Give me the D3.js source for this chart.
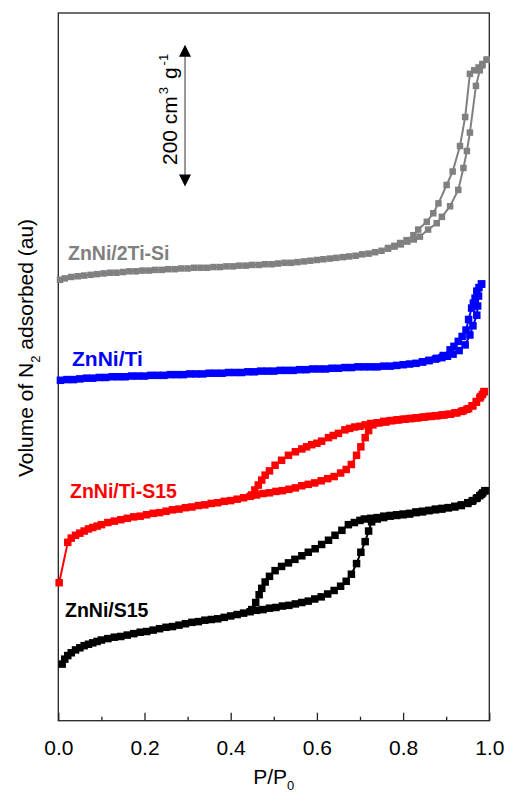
<!DOCTYPE html>
<html>
<head>
<meta charset="utf-8">
<script src="https://cdn.jsdelivr.net/npm/d3@7"></script>
<style>
  body { margin: 0; background: #fff; }
  svg { display: block; font-family: "Liberation Sans", Arial, sans-serif; }
  .seriesLabel { font-weight: bold; }
</style>
</head>
<body>
<div id="isothermChart"></div>
<script>
// x axis ticks
const pMajorTicks = [0, 0.2, 0.4, 0.6, 0.8, 1.0];
const pMinorTicks = [0.1, 0.3, 0.5, 0.7, 0.9];

// ZnNi/S15 (black) - [P/P0, volume au]
const s15Ads = [[0.009,80],[0.015,87],[0.022,92],[0.03,96],[0.04,100],[0.05,103],[0.06,106],[0.07,108],[0.08,110],[0.09,112],[0.10,114],[0.115,116],[0.13,118],[0.145,119],[0.16,121],[0.175,123],[0.19,125],[0.205,126],[0.22,128],[0.235,130],[0.25,132],[0.265,133],[0.28,135],[0.295,137],[0.31,139],[0.325,140],[0.34,142],[0.355,143],[0.37,144],[0.385,146],[0.40,148],[0.415,150],[0.43,152],[0.445,154],[0.46,156],[0.475,157],[0.49,159],[0.505,160],[0.52,162],[0.535,163],[0.55,165],[0.565,167],[0.58,169],[0.595,172],[0.61,175],[0.625,179],[0.64,184],[0.655,190],[0.668,197],[0.68,207],[0.692,222],[0.702,238],[0.712,253],[0.72,268],[0.727,281],[0.74,285],[0.755,287],[0.77,289],[0.785,290],[0.80,291],[0.815,292],[0.83,294],[0.845,295],[0.86,297],[0.875,298],[0.89,299],[0.905,301],[0.92,302],[0.935,304],[0.95,307],[0.96,310],[0.97,314],[0.978,318],[0.985,322],[0.99,325]];
const s15Des = [[0.99,325],[0.982,320],[0.972,315],[0.962,311],[0.95,308],[0.935,305],[0.92,303],[0.905,301],[0.89,300],[0.875,299],[0.86,297],[0.845,296],[0.83,295],[0.815,293],[0.80,292],[0.785,291],[0.77,290],[0.755,289],[0.74,287],[0.725,286],[0.71,285],[0.70,283],[0.687,280],[0.673,277],[0.658,269],[0.642,262],[0.627,255],[0.611,249],[0.596,243],[0.58,238],[0.565,233],[0.549,228],[0.534,223],[0.518,218],[0.503,212],[0.49,204],[0.48,196],[0.472,187],[0.466,178],[0.458,167],[0.449,157]];

// ZnNi/Ti-S15 (red)
const tiS15Ads = [[0.002,195],[0.022,252],[0.03,258],[0.04,262],[0.05,265],[0.06,268],[0.07,271],[0.08,273],[0.09,275],[0.10,277],[0.115,280],[0.13,282],[0.145,284],[0.16,286],[0.175,288],[0.19,289],[0.205,291],[0.22,293],[0.235,294],[0.25,296],[0.265,298],[0.28,299],[0.295,301],[0.31,302],[0.325,304],[0.34,305],[0.355,307],[0.37,308],[0.385,310],[0.40,311],[0.415,313],[0.43,315],[0.445,317],[0.46,319],[0.475,321],[0.49,322],[0.505,324],[0.52,325],[0.535,327],[0.55,329],[0.565,332],[0.58,334],[0.595,336],[0.61,339],[0.625,342],[0.64,345],[0.655,350],[0.668,355],[0.68,362],[0.692,375],[0.702,387],[0.712,400],[0.72,410],[0.73,418],[0.745,421],[0.76,422],[0.775,424],[0.79,425],[0.805,426],[0.82,427],[0.835,428],[0.85,429],[0.865,430],[0.88,431],[0.895,432],[0.91,433],[0.925,435],[0.94,438],[0.952,441],[0.962,445],[0.97,450],[0.978,456],[0.984,461],[0.988,465]];
const tiS15Des = [[0.988,465],[0.98,458],[0.97,451],[0.96,445],[0.948,440],[0.935,437],[0.92,435],[0.905,433],[0.89,432],[0.875,431],[0.86,430],[0.845,429],[0.83,428],[0.815,427],[0.80,426],[0.785,425],[0.77,424],[0.755,423],[0.74,421],[0.725,420],[0.712,418],[0.70,416],[0.688,415],[0.676,413],[0.665,411],[0.65,406],[0.638,403],[0.627,400],[0.611,395],[0.60,392],[0.588,390],[0.576,387],[0.565,384],[0.55,380],[0.534,375],[0.518,368],[0.503,361],[0.49,353],[0.48,347],[0.472,340],[0.464,333],[0.456,326],[0.449,319]];

// ZnNi/Ti (blue)
const tiAds = [[0.005,481],[0.02,482],[0.035,482],[0.05,483],[0.065,484],[0.08,484],[0.095,485],[0.11,485],[0.125,486],[0.14,486],[0.155,486],[0.17,487],[0.185,487],[0.20,487],[0.215,488],[0.23,488],[0.245,488],[0.26,489],[0.275,489],[0.29,489],[0.305,490],[0.32,490],[0.335,490],[0.35,491],[0.365,491],[0.38,491],[0.395,492],[0.41,492],[0.425,492],[0.44,493],[0.455,493],[0.47,494],[0.485,494],[0.50,494],[0.515,495],[0.53,495],[0.545,495],[0.56,496],[0.575,496],[0.59,497],[0.605,497],[0.62,497],[0.635,498],[0.65,498],[0.665,499],[0.68,499],[0.695,500],[0.71,500],[0.725,500],[0.74,500],[0.755,501],[0.77,501],[0.785,502],[0.80,503],[0.815,504],[0.83,505],[0.845,507],[0.86,509],[0.875,511],[0.89,513],[0.903,515],[0.916,518],[0.93,523],[0.944,531],[0.955,545],[0.962,558],[0.971,573],[0.973,586],[0.975,600],[0.982,617]];
const tiDes = [[0.982,617],[0.976,612],[0.971,607],[0.967,597],[0.963,590],[0.959,583],[0.952,567],[0.946,552],[0.937,543],[0.928,536],[0.918,529],[0.909,524],[0.893,516],[0.878,512],[0.86,509],[0.845,507]];

// ZnNi/2Ti-Si (grey)
const ti2SiAds = [[0.004,623],[0.015,625],[0.03,627],[0.045,628],[0.06,629],[0.075,630],[0.09,631],[0.105,632],[0.12,633],[0.135,633],[0.15,634],[0.165,635],[0.18,635],[0.195,636],[0.21,636],[0.225,637],[0.24,637],[0.255,638],[0.27,638],[0.285,639],[0.30,639],[0.315,640],[0.33,640],[0.345,640],[0.36,641],[0.375,641],[0.39,642],[0.405,642],[0.42,643],[0.435,643],[0.45,644],[0.465,644],[0.48,645],[0.495,645],[0.51,646],[0.525,647],[0.54,647],[0.555,648],[0.57,649],[0.585,650],[0.60,651],[0.615,652],[0.63,653],[0.645,654],[0.66,655],[0.675,656],[0.69,657],[0.705,659],[0.72,660],[0.735,662],[0.75,664],[0.765,667],[0.78,670],[0.795,673],[0.81,677],[0.825,680],[0.839,684],[0.858,694],[0.878,703],[0.89,712],[0.909,727],[0.928,750],[0.94,781],[0.948,805],[0.955,831],[0.969,897],[0.978,919],[0.984,926],[0.994,934]];
const ti2SiDes = [[0.994,934],[0.984,928],[0.975,923],[0.965,919],[0.955,914],[0.944,853],[0.932,812],[0.915,776],[0.901,757],[0.882,731],[0.87,717],[0.855,705],[0.835,694],[0.824,686],[0.808,679],[0.793,675],[0.78,671],[0.765,668]];

const seriesList = [
  { name: 'ZnNi/2Ti-Si', color: '#808080', ads: ti2SiAds, des: ti2SiDes, size: 6.5, lx: 68,  ly: 260, fs: 19.5 },
  { name: 'ZnNi/Ti',     color: '#0000ff', ads: tiAds,    des: tiDes,    size: 7.5, lx: 72,  ly: 365.5, fs: 21 },
  { name: 'ZnNi/Ti-S15', color: '#ff0000', ads: tiS15Ads, des: tiS15Des, size: 7.5, lx: 70,  ly: 498, fs: 19.5 },
  { name: 'ZnNi/S15',    color: '#000000', ads: s15Ads,   des: s15Des,   size: 7.5, lx: 65,  ly: 617, fs: 19.5 }
];

// scale bar (200 cm3/g) in data units
const scaleBarP = 0.294;
const scaleBarRange = [755, 955];

const margin = { top: 13, right: 16.7, bottom: 73.3, left: 58.3 };
const svgWidth = 506, svgHeight = 794;
const width = svgWidth - margin.left - margin.right;
const height = svgHeight - margin.top - margin.bottom;

const svg = d3.select('#isothermChart').append('svg')
  .attr('width', svgWidth)
  .attr('height', svgHeight);

const g = svg.append('g')
  .attr('transform', `translate(${margin.left},${margin.top})`);

const xScale = d3.scaleLinear().domain([0, 1]).range([0, width]);
const yScale = d3.scaleLinear().domain([0, 1000]).range([height, 0]);

// bottom axis, ticks inside
const xAxis = d3.axisBottom(xScale)
  .tickValues(pMajorTicks)
  .tickSizeInner(-8)
  .tickSizeOuter(0)
  .tickPadding(19)
  .tickFormat(d3.format('.1f'));

const xg = g.append('g')
  .attr('class', 'xaxis')
  .attr('transform', `translate(0,${height})`)
  .call(xAxis);
xg.select('.domain').remove();
xg.selectAll('.tick line').attr('stroke', '#222').attr('stroke-width', 1.3);
xg.selectAll('.tick text').attr('font-size', 21).attr('fill', '#000')
  .attr('font-family', '"Liberation Sans", Arial, sans-serif');

g.append('g')
  .attr('transform', `translate(0,${height})`)
  .call(d3.axisBottom(xScale).tickValues(pMinorTicks).tickSizeInner(-4).tickSizeOuter(0).tickFormat(''))
  .call(a => a.select('.domain').remove())
  .selectAll('.tick line').attr('stroke', '#222').attr('stroke-width', 1.3);

// frame
g.append('rect')
  .attr('x', 0).attr('y', 0)
  .attr('width', width).attr('height', height)
  .attr('fill', 'none')
  .attr('stroke', '#222')
  .attr('stroke-width', 1.3);

const line = d3.line().x(d => xScale(d[0])).y(d => yScale(d[1]));

seriesList.forEach(s => {
  const sg = g.append('g');
  [s.ads, s.des].forEach(branch => {
    sg.append('path')
      .datum(branch)
      .attr('d', line)
      .attr('fill', 'none')
      .attr('stroke', s.color)
      .attr('stroke-width', 2);
    sg.selectAll(null)
      .data(branch)
      .enter()
      .append('rect')
      .attr('x', d => xScale(d[0]) - s.size / 2)
      .attr('y', d => yScale(d[1]) - s.size / 2)
      .attr('width', s.size)
      .attr('height', s.size)
      .attr('fill', s.color);
  });
  svg.append('text')
    .attr('class', 'seriesLabel')
    .attr('x', s.lx)
    .attr('y', s.ly)
    .attr('font-size', s.fs)
    .attr('fill', s.color)
    .text(s.name);
});

// scale bar arrow
const barX = xScale(scaleBarP);
g.append('line')
  .attr('x1', barX).attr('x2', barX)
  .attr('y1', yScale(scaleBarRange[0]) - 10)
  .attr('y2', yScale(scaleBarRange[1]) + 10)
  .attr('stroke', '#555')
  .attr('stroke-width', 1.2);
g.append('path')
  .attr('d', `M${barX},${yScale(scaleBarRange[1])} l-6,12 l12,0 z`)
  .attr('fill', '#000');
g.append('path')
  .attr('d', `M${barX},${yScale(scaleBarRange[0])} l-6,-12 l12,0 z`)
  .attr('fill', '#000');

const barText = svg.append('text')
  .attr('transform', `translate(177,165) rotate(-90)`)
  .attr('font-size', 21)
  .attr('fill', '#000');
barText.append('tspan').text('200 cm');
barText.append('tspan').attr('font-size', 13).attr('dy', -9).attr('dx', 2).text('3');
barText.append('tspan').attr('dy', 9).attr('dx', 2).text(' g');
barText.append('tspan').attr('font-size', 13).attr('dy', -9).attr('dx', 2).text('-1');

// axis titles
const xTitle = svg.append('text')
  .attr('x', margin.left + width / 2)
  .attr('y', 784)
  .attr('text-anchor', 'middle')
  .attr('font-size', 21)
  .attr('fill', '#000');
xTitle.append('tspan').text('P/P');
xTitle.append('tspan').attr('font-size', 13).attr('dy', 6).text('0');

const yTitle = svg.append('text')
  .attr('transform', `translate(33,348) rotate(-90)`)
  .attr('text-anchor', 'middle')
  .attr('font-size', 21)
  .attr('fill', '#000');
yTitle.append('tspan').text('Volume of N');
yTitle.append('tspan').attr('font-size', 13).attr('dy', 7).text('2');
yTitle.append('tspan').attr('dy', -7).text(' adsorbed (au)');
</script>
</body>
</html>
